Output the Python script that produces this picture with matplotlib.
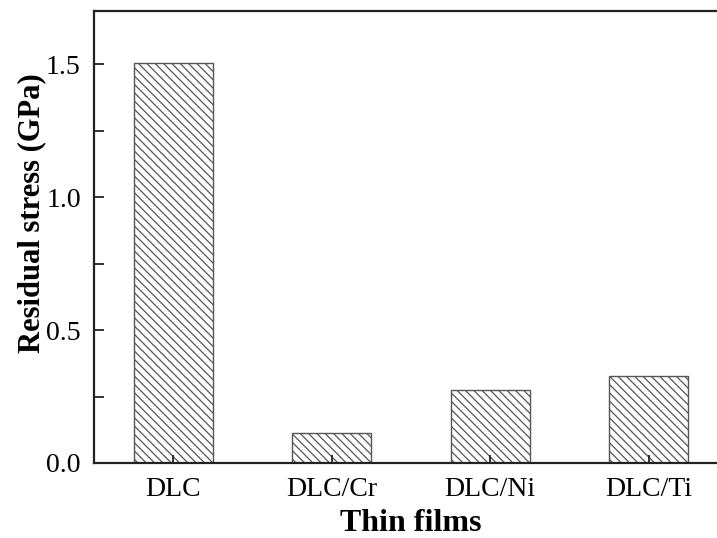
import matplotlib
matplotlib.use("Agg")
import matplotlib.pyplot as plt
from matplotlib.ticker import MultipleLocator, FormatStrFormatter

categories = ["DLC", "DLC/Cr", "DLC/Ni", "DLC/Ti"]
stress = [1.505, 0.113, 0.276, 0.328]

plt.rcParams['font.family'] = ['Liberation Serif', 'DejaVu Serif']
plt.rcParams['hatch.linewidth'] = 0.9
plt.rcParams['hatch.color'] = '#555555'

fig = plt.figure(figsize=(7.17, 5.38), dpi=100)
ax = fig.add_axes([94/717, 1-463/538, (728-94)/717, (463-11)/538])

x = list(range(len(categories)))
ax.bar(x, stress, width=0.5, facecolor='white', edgecolor='#555555',
       linewidth=1.0, hatch=r'\\\\')

ax.set_xlim(-0.5, 3.5)
ax.set_ylim(0, 1.7)
ax.set_xticks(x)
ax.set_xticklabels(categories)
ax.yaxis.set_major_locator(MultipleLocator(0.5))
ax.yaxis.set_minor_locator(MultipleLocator(0.25))
ax.yaxis.set_major_formatter(FormatStrFormatter('%.1f'))

ax.tick_params(axis='y', which='both', direction='in', length=7, width=1.3,
               labelsize=20, color='#222222', pad=9.5)
ax.tick_params(axis='x', which='major', direction='in', length=6, width=1.3,
               labelsize=20, color='#222222', pad=10)
ax.tick_params(axis='y', which='minor', length=7)
ax.tick_params(right=False, top=False)

for s in ax.spines.values():
    s.set_linewidth(1.6)
    s.set_color('#222222')

ax.set_xlabel('Thin films', fontsize=23, fontweight='bold', labelpad=5)
ax.set_ylabel('Residual stress (GPa)', fontsize=22, fontweight='bold')
ax.yaxis.set_label_coords(-0.075, 0.553)

fig.savefig('out.png', dpi=100)
